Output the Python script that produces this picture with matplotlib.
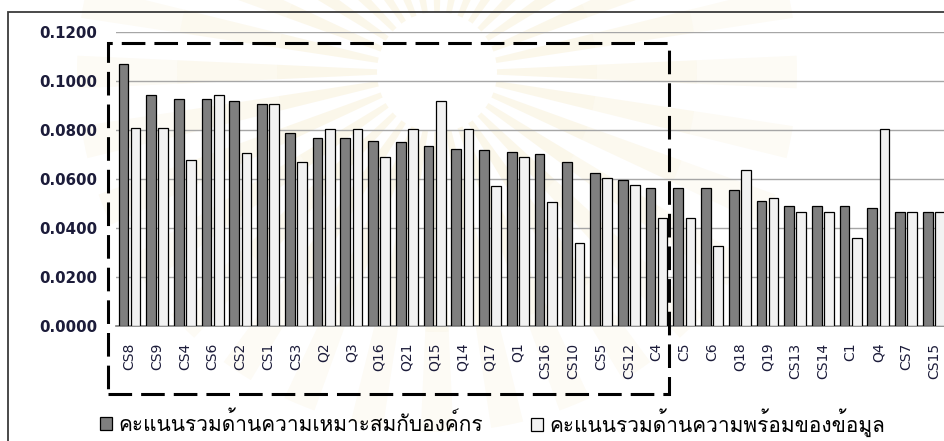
import matplotlib
matplotlib.use("Agg")
import matplotlib.pyplot as plt
from matplotlib import font_manager
from matplotlib.ft2font import FT2Font
from matplotlib.patches import Rectangle, Patch, Wedge
from matplotlib.transforms import IdentityTransform

categories = ["CS8", "CS9", "CS4", "CS6", "CS2", "CS1", "CS3", "Q2", "Q3", "Q16",
              "Q21", "Q15", "Q14", "Q17", "Q1", "CS16", "CS10", "CS5", "CS12", "C4",
              "C5", "C6", "Q18", "Q19", "CS13", "CS14", "C1", "Q4", "CS7", "CS15"]
fit_score = [0.1069, 0.0944, 0.0928, 0.0928, 0.0918, 0.0906, 0.0788, 0.0767, 0.0766, 0.0755,
             0.0750, 0.0733, 0.0722, 0.0717, 0.0711, 0.0701, 0.0668, 0.0624, 0.0597, 0.0562,
             0.0562, 0.0562, 0.0554, 0.0510, 0.0488, 0.0488, 0.0488, 0.0483, 0.0467, 0.0467]
data_score = [0.0809, 0.0809, 0.0679, 0.0944, 0.0706, 0.0906, 0.0668, 0.0804, 0.0804, 0.0690,
              0.0804, 0.0917, 0.0804, 0.0570, 0.0690, 0.0505, 0.0337, 0.0603, 0.0576, 0.0440,
              0.0440, 0.0327, 0.0635, 0.0521, 0.0467, 0.0467, 0.0358, 0.0804, 0.0467, 0.0467]
legend_labels = ["คะแนนรวมด้านความเหมาะสมกับองค์กร", "คะแนนรวมด้านความพร้อมของข้อมูล"]
yticks = [0.0, 0.02, 0.04, 0.06, 0.08, 0.10, 0.12]


def find_thai_font():
    # first installed family that has Thai glyphs
    for f in font_manager.fontManager.ttflist:
        try:
            if 0x0E04 in FT2Font(f.fname).get_charmap():
                return f.name
        except Exception:
            pass
    return "DejaVu Sans"


thai_font = find_thai_font()
text_color = "#1c1c3a"

W, H = 944, 441
fig = plt.figure(figsize=(W / 100, H / 100), dpi=100)

# very faint sunburst emblem in the page background
cx, cy = 437, H - 72
for k in range(32):
    a = k * 11.25
    for r, w, al in [(160, 100, 0.16), (260, 100, 0.12), (360, 100, 0.08)]:
        fig.patches.append(Wedge((cx, cy), r, a - 2.6, a + 2.6, width=w,
                                 transform=IdentityTransform(), facecolor="#e8cf80",
                                 edgecolor="none", alpha=al, zorder=-5))

ax_left, ax_bottom, ax_top = 115.6, 326, 32
group_w = 27.74
ax = fig.add_axes([ax_left / W, 1 - ax_bottom / H, 1 - ax_left / W, (ax_bottom - ax_top) / H])

x = list(range(len(categories)))
bw = 0.35
off = 0.22
ax.bar([i - off for i in x], fit_score, width=bw, color="#7f7f7f",
       edgecolor="black", linewidth=0.9, zorder=3)
ax.bar([i + off for i in x], data_score, width=bw, color="#f2f2f2",
       edgecolor="black", linewidth=0.9, zorder=3)

ax.set_xlim(-0.5, -0.5 + (W - ax_left) / group_w)
ax.set_ylim(0, 0.12)
ax.set_yticks(yticks)
ax.set_yticklabels([f"{v:.4f}" for v in yticks], fontsize=10.8,
                   fontweight="bold", color=text_color)
ax.set_xticks(x)
ax.set_xticklabels(categories, rotation=90, fontsize=10, color=text_color, va="top")
ax.tick_params(axis="y", length=0, pad=13)
ax.tick_params(axis="x", length=0, pad=12)
ax.grid(axis="y", color="#a6a6a6", linewidth=1.0, zorder=0)
for s in ["left", "right", "top"]:
    ax.spines[s].set_visible(False)
ax.spines["bottom"].set_color("#808080")
ax.spines["bottom"].set_linewidth(1.2)
ax.patch.set_alpha(0)


def px_rect(x0, y0, x1, y1, **kw):
    # rectangle given in pixel coords measured from the top-left corner
    return Rectangle((x0 / W, 1 - y1 / H), (x1 - x0) / W, (y1 - y0) / H,
                     transform=fig.transFigure, fill=False, **kw)


# outer chart frame
fig.patches.append(px_rect(8, 12, W + 20, H + 20, edgecolor="#3a3a3a", linewidth=1.3))
# dashed box round the first group of items
lw = 2.2
fig.patches.append(px_rect(108, 43, 669, 394, edgecolor="black", linewidth=lw,
                           linestyle=(0, (17 / lw, 6.5 / lw)), zorder=5))

# one legend entry each, so both can be placed exactly
colors = ["#7f7f7f", "#f2f2f2"]
for xpos, col, lab in zip([100, 531], colors, legend_labels):
    fig.legend([Patch(facecolor=col, edgecolor="black", linewidth=0.9)], [lab],
               loc="center left", bbox_to_anchor=(xpos / W, 1 - 423 / H),
               frameon=False, borderpad=0, borderaxespad=0,
               handlelength=0.58, handleheight=0.58, handletextpad=0.3,
               prop={"family": [thai_font, "DejaVu Sans"], "size": 15})

fig.savefig("out.png", dpi=100)
